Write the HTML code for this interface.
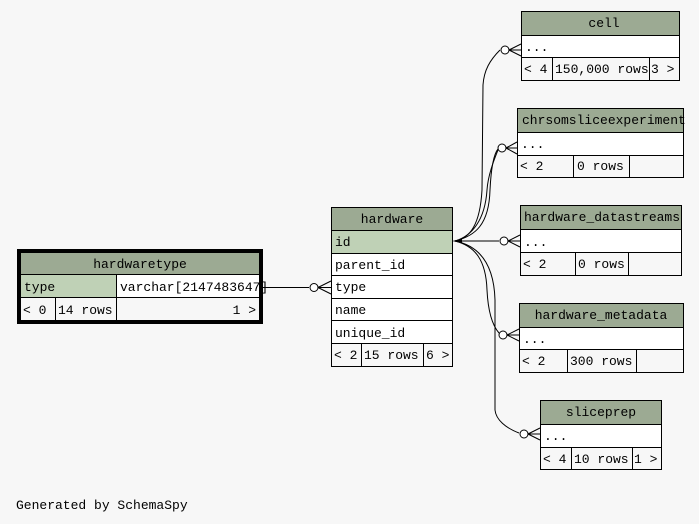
<!DOCTYPE html>
<html><head><meta charset="utf-8"><style>
html,body{margin:0;padding:0;background:#f7f7f7;}
svg{display:block}
text{font-family:"Liberation Mono","DejaVu Sans Mono",monospace;font-size:13px;fill:#000}
.h{fill:#9caa93}
.k{fill:#bfd1b6}
.w{fill:#fff}
.f{fill:#f7f7f7}
rect{stroke:#000;stroke-width:1}
.e{fill:none;stroke:#000;stroke-width:1}
</style></head><body>
<svg width="699" height="524" viewBox="0 0 699 524">
<rect x="0" y="0" width="699" height="524" style="fill:#f7f7f7;stroke:none"/>

<!-- hardwaretype -->
<rect x="18.5" y="250.5" width="243" height="72" style="fill:none;stroke-width:3"/>
<rect class="h" x="20.5" y="252.5" width="239" height="22"/>
<text x="140" y="268" text-anchor="middle">hardwaretype</text>
<rect class="k" x="20.5" y="274.5" width="96" height="23"/>
<rect class="w" x="116.5" y="274.5" width="143" height="23"/>
<text x="24" y="291">type</text>
<text x="120" y="291">varchar[2147483647]</text>
<rect class="f" x="20.5" y="297.5" width="35" height="23"/>
<rect class="f" x="55.5" y="297.5" width="61" height="23"/>
<rect class="f" x="116.5" y="297.5" width="143" height="23"/>
<text x="23" y="314">&lt; 0</text>
<text x="58" y="314">14 rows</text>
<text x="256" y="314" text-anchor="end">1 &gt;</text>

<!-- hardware -->
<rect class="h" x="331.5" y="207.5" width="121" height="23"/>
<text x="392" y="223" text-anchor="middle">hardware</text>
<rect class="k" x="331.5" y="230.5" width="121" height="23"/>
<text x="335" y="246">id</text>
<rect class="w" x="331.5" y="253.5" width="121" height="22"/>
<text x="335" y="269">parent_id</text>
<rect class="w" x="331.5" y="275.5" width="121" height="23"/>
<text x="335" y="291">type</text>
<rect class="w" x="331.5" y="298.5" width="121" height="22"/>
<text x="335" y="314">name</text>
<rect class="w" x="331.5" y="320.5" width="121" height="23"/>
<text x="335" y="337">unique_id</text>
<rect class="f" x="331.5" y="343.5" width="30" height="23"/>
<rect class="f" x="361.5" y="343.5" width="62" height="23"/>
<rect class="f" x="423.5" y="343.5" width="29" height="23"/>
<text x="334" y="359">&lt; 2</text>
<text x="364" y="359">15 rows</text>
<text x="426" y="359">6 &gt;</text>

<!-- cell -->
<rect class="h" x="521.5" y="11.5" width="158" height="24"/>
<text x="604" y="27" text-anchor="middle">cell</text>
<rect class="w" x="521.5" y="35.5" width="158" height="22"/>
<text x="525" y="51">...</text>
<rect class="f" x="521.5" y="57.5" width="31" height="23"/>
<rect class="f" x="552.5" y="57.5" width="97" height="23"/>
<rect class="f" x="649.5" y="57.5" width="30" height="23"/>
<text x="524" y="73">&lt; 4</text>
<text x="555" y="73">150,000 rows</text>
<text x="651" y="73">3 &gt;</text>

<!-- chrsomsliceexperiment -->
<rect class="h" x="517.5" y="108.5" width="166" height="24"/>
<text x="522" y="124">chrsomsliceexperiment</text>
<rect class="w" x="517.5" y="132.5" width="166" height="23"/>
<text x="521" y="148">...</text>
<rect class="f" x="517.5" y="155.5" width="56" height="22"/>
<rect class="f" x="573.5" y="155.5" width="56" height="22"/>
<rect class="f" x="629.5" y="155.5" width="54" height="22"/>
<text x="520" y="170">&lt; 2</text>
<text x="577" y="170">0 rows</text>

<!-- hardware_datastreams -->
<rect class="h" x="520.5" y="205.5" width="161" height="24"/>
<text x="524" y="221">hardware_datastreams</text>
<rect class="w" x="520.5" y="229.5" width="161" height="23"/>
<text x="524" y="246">...</text>
<rect class="f" x="520.5" y="252.5" width="55" height="23"/>
<rect class="f" x="575.5" y="252.5" width="53" height="23"/>
<rect class="f" x="628.5" y="252.5" width="53" height="23"/>
<text x="523" y="268">&lt; 2</text>
<text x="578" y="268">0 rows</text>

<!-- hardware_metadata -->
<rect class="h" x="519.5" y="303.5" width="164" height="24"/>
<text x="601" y="319" text-anchor="middle">hardware_metadata</text>
<rect class="w" x="519.5" y="327.5" width="164" height="22"/>
<text x="523" y="343">...</text>
<rect class="f" x="519.5" y="349.5" width="48" height="23"/>
<rect class="f" x="567.5" y="349.5" width="69" height="23"/>
<rect class="f" x="636.5" y="349.5" width="47" height="23"/>
<text x="522" y="365">&lt; 2</text>
<text x="570" y="365">300 rows</text>

<!-- sliceprep -->
<rect class="h" x="540.5" y="400.5" width="121" height="24"/>
<text x="601" y="416" text-anchor="middle">sliceprep</text>
<rect class="w" x="540.5" y="424.5" width="121" height="23"/>
<text x="544" y="440">...</text>
<rect class="f" x="540.5" y="447.5" width="31" height="22"/>
<rect class="f" x="571.5" y="447.5" width="61" height="22"/>
<rect class="f" x="632.5" y="447.5" width="29" height="22"/>
<text x="543" y="463">&lt; 4</text>
<text x="574" y="463">10 rows</text>
<text x="634" y="463">1 &gt;</text>

<!-- edges -->
<path class="e" d="M262 287.5 H309"/>
<circle cx="314" cy="287.5" r="4" fill="#fff" stroke="#000"/>
<path class="e" d="M318 287.5 L331 281 M318 287.5 L331 294 M318 287.5 H331" stroke-width="1.5"/>

<path class="e" d="M455 241 C470 238 480 225 482 190 L483 85 C484 70 490 60 500 50"/>
<path class="e" d="M455 241 C475 236 489 225 490 190 C491 170 493 155 498 149"/>
<path class="e" d="M455 241 C472 236 485 220 487 190 C488 175 494 160 498 150"/>
<path class="e" d="M455 241 H499"/>
<path class="e" d="M455 241 C475 246 486 260 487 290 C488 310 492 325 499 333"/>
<path class="e" d="M455 241 C480 246 494 265 495 300 L495 410 C496 420 506 428 519 433"/>
<path d="M452 241 L462 239 L462 243 Z" fill="#000"/>

<g fill="#fff" stroke="#000">
<circle cx="505" cy="50" r="4"/>
<circle cx="502" cy="148" r="4"/>
<circle cx="504" cy="241" r="4"/>
<circle cx="503" cy="335" r="4"/>
<circle cx="524" cy="434" r="4"/>
</g>
<g class="e" stroke-width="1.5">
<path d="M509 50 L521 44 M509 50 L521 56 M509 50 H521"/>
<path d="M506 148 L517 142 M506 148 L517 154 M506 148 H517"/>
<path d="M508 241 L520 235 M508 241 L520 247 M508 241 H520"/>
<path d="M507 335 L519 329 M507 335 L519 341 M507 335 H519"/>
<path d="M528 434 L540 428 M528 434 L540 440 M528 434 H540"/>
</g>

<text x="16" y="509">Generated by SchemaSpy</text>
</svg>
</body></html>
